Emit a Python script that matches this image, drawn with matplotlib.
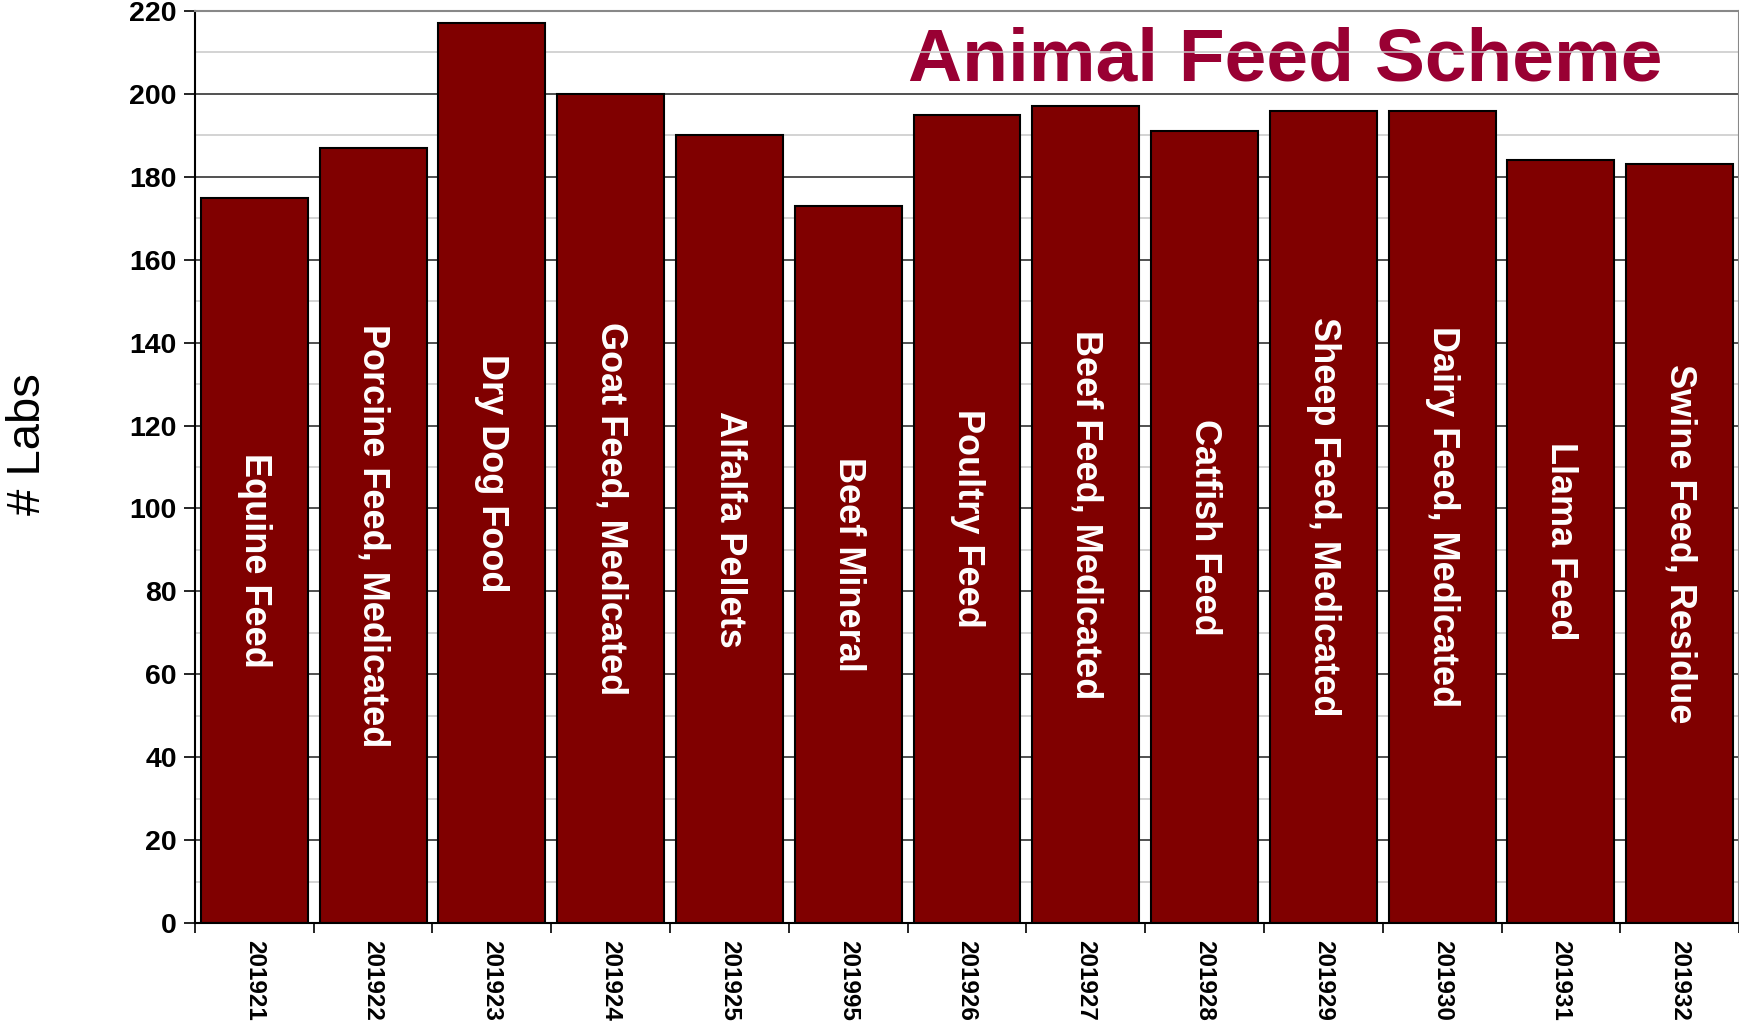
import numpy as np
import matplotlib.pyplot as plt
from matplotlib.ticker import MultipleLocator, FixedLocator

codes = ["201921", "201922", "201923", "201924", "201925", "201995", "201926",
         "201927", "201928", "201929", "201930", "201931", "201932"]
feeds = ["Equine Feed", "Porcine Feed, Medicated", "Dry Dog Food", "Goat Feed, Medicated",
         "Alfalfa Pellets", "Beef Mineral", "Poultry Feed", "Beef Feed, Medicated",
         "Catfish Feed", "Sheep Feed, Medicated", "Dairy Feed, Medicated", "Llama Feed",
         "Swine Feed, Residue"]
labs = [175, 187, 217, 200, 190, 173, 195, 197, 191, 196, 196, 184, 183]

plt.rcParams['font.family'] = ['Liberation Sans', 'DejaVu Sans']

fig = plt.figure(figsize=(17.4, 10.31), dpi=100)
ax = fig.add_axes([0.112, 0.1047, 0.8875, 0.8846])

x = np.arange(len(codes))
bars = ax.bar(x, labs, width=0.9, color="#800000", edgecolor="black", linewidth=1.5, zorder=2)

for xi, v, name in zip(x, labs, feeds):
    ax.text(xi, v / 2, name, rotation=-90, ha="center", va="center", color="white",
            fontsize=26, fontweight="bold", family=['Liberation Sans Narrow', 'Liberation Sans'],
            zorder=3)

ax.set_xlim(-0.5, len(codes) - 0.5)
ax.set_ylim(0, 220)

ax.yaxis.set_major_locator(MultipleLocator(20))
ax.yaxis.set_minor_locator(MultipleLocator(10))
ax.set_axisbelow(True)
ax.grid(axis="y", which="major", color="#222222", linewidth=1.1)
ax.grid(axis="y", which="minor", color="#c8c8c8", linewidth=1.1)
ax.tick_params(axis="y", which="minor", length=0)
ax.tick_params(axis="y", which="major", length=8, width=1.2, labelsize=20.5, pad=5)
for lbl in ax.get_yticklabels():
    lbl.set_fontweight("bold")

ax.set_xticks(x)
ax.set_xticklabels(codes, rotation=-90, fontsize=17.5, fontweight="bold")
ax.xaxis.set_minor_locator(FixedLocator(np.arange(len(codes) + 1) - 0.5))
ax.tick_params(axis="x", which="major", length=0, pad=12)
ax.tick_params(axis="x", which="minor", length=7, width=1.2)

ax.spines["left"].set_linewidth(1.5)
ax.spines["bottom"].set_linewidth(1.5)
ax.spines["top"].set_color("#888888")
ax.spines["right"].set_color("#888888")
ax.spines["top"].set_linewidth(1.5)
ax.spines["right"].set_linewidth(1.5)

ax.text(0.706, 0.945, "Animal Feed Scheme", transform=ax.transAxes, ha="center", va="center",
        fontsize=54, fontweight="bold", color="#990033", zorder=0.4)

fig.text(0.016, 0.569, "# Labs", rotation=90, ha="center", va="center", fontsize=34)

fig.savefig("out.png", dpi=100)
